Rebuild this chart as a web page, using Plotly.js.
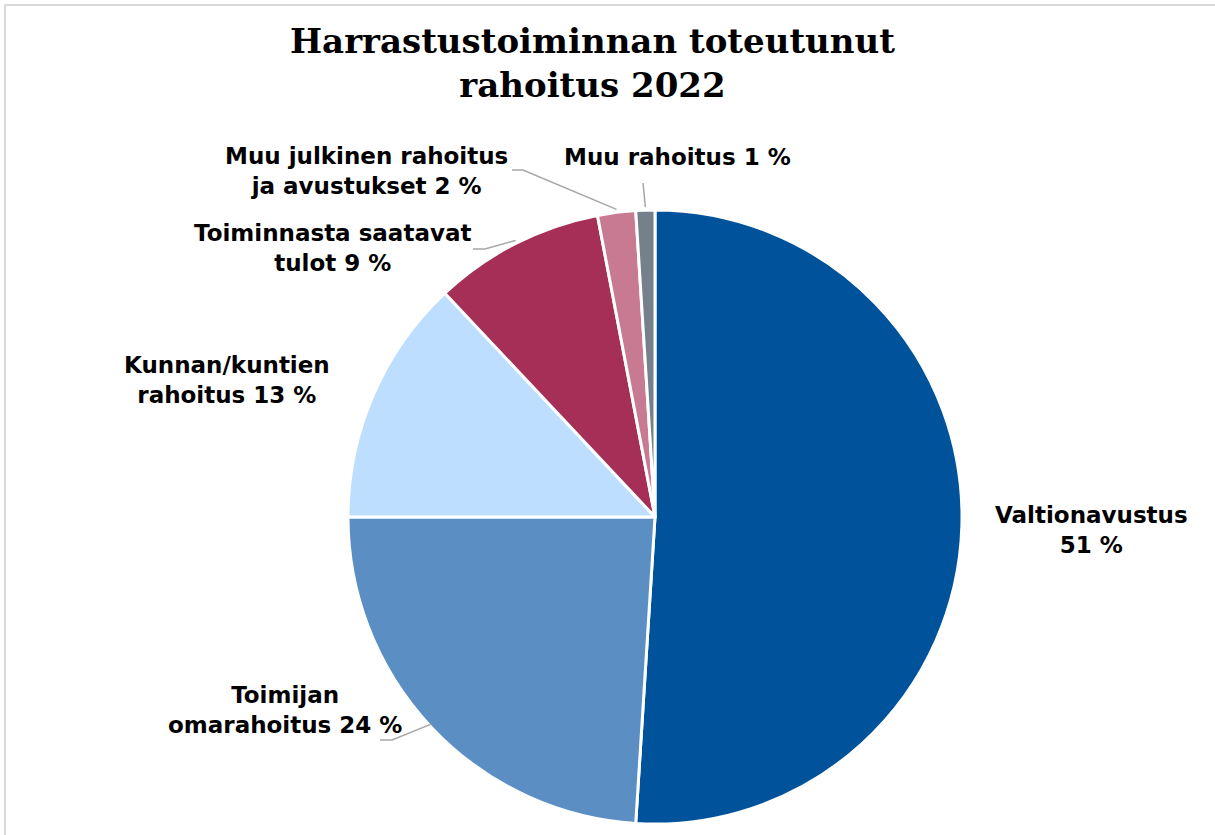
<!DOCTYPE html>
<html>
<head>
<meta charset="utf-8">
<script src="https://cdn.plot.ly/plotly-3.0.1.min.js"></script>
<style>
  html, body { margin: 0; padding: 0; background: #fff; overflow: hidden; }
  #kehys {
    position: absolute; left: 4px; top: 4px; width: 1400px; height: 1000px;
    border-top: 2px solid #d9d9d9; border-left: 2px solid #d9d9d9;
    pointer-events: none;
  }
  #kaavio { width: 1215px; height: 835px; }
</style>
</head>
<body>
<div id="kaavio"></div>
<div id="kehys"></div>
<script>
// rahoituslähteet, osuus prosentteina
const lahteet = [
  "Valtionavustus",
  "Toimijan omarahoitus",
  "Kunnan/kuntien rahoitus",
  "Toiminnasta saatavat tulot",
  "Muu julkinen rahoitus ja avustukset",
  "Muu rahoitus"
];
const osuudet = [51, 24, 13, 9, 2, 1];
// rivitykset kuten alkuperäisessä
const nimiRivit = [
  "Valtionavustus<br>",
  "Toimijan<br>omarahoitus ",
  "Kunnan/kuntien<br>rahoitus ",
  "Toiminnasta saatavat<br>tulot ",
  "Muu julkinen rahoitus<br>ja avustukset ",
  "Muu rahoitus "
];
const varit = ["#00529b", "#5b8fc4", "#bddeff", "#a52f57", "#c97a93", "#76808a"];

const W = 1215, H = 835;
const CX = 655, CY = 517, R = 307;   // piirakan keskipiste ja säde (px)

const px = x => x / W;
const py = y => 1 - y / H;

// tekstien paikat (px) ja selitysviivan alkupisteet
const tekstiPaikat = [
  [1091, 530], [285, 710], [227, 380], [332, 248], [366, 171], [677, 157]
];
const viivaAlku = [null, [380, 740], null, [473, 249], [512, 170], [643, 183]];
const viivaKulma = [null, [392, 740], null, [485, 249], [523, 170], null];

// siivun keskikohta piirakan reunalla, lasketaan datasta
const summa = osuudet.reduce((a, b) => a + b, 0);
function reunaPiste(i) {
  const ennen = osuudet.slice(0, i).reduce((a, b) => a + b, 0);
  const kulma = (ennen + osuudet[i] / 2) / summa * 2 * Math.PI;
  return [CX + R * Math.sin(kulma), CY - R * Math.cos(kulma)];
}

const annotations = lahteet.map((nimi, i) => ({
  text: nimiRivit[i] + osuudet[i] + " %",
  x: px(tekstiPaikat[i][0]),
  y: py(tekstiPaikat[i][1]),
  xref: "paper", yref: "paper",
  xanchor: "center", yanchor: "middle", align: "center",
  showarrow: false,
  font: { family: "DejaVu Sans", size: 23, color: "#000", weight: "bold" }
}));

// otsikko
annotations.push({
  text: "Harrastustoiminnan toteutunut<br>rahoitus 2022",
  x: px(592), y: py(19),
  xref: "paper", yref: "paper",
  xanchor: "center", yanchor: "top", align: "center",
  showarrow: false,
  font: { family: "DejaVu Serif", size: 34, color: "#000", weight: "bold" }
});

const shapes = [];
lahteet.forEach((nimi, i) => {
  if (!viivaAlku[i]) return;
  const loppu = reunaPiste(i);
  let polku = "M" + px(viivaAlku[i][0]) + "," + py(viivaAlku[i][1]);
  if (viivaKulma[i]) polku += " L" + px(viivaKulma[i][0]) + "," + py(viivaKulma[i][1]);
  polku += " L" + px(loppu[0]) + "," + py(loppu[1] - 3);
  shapes.push({
    type: "path", xref: "paper", yref: "paper", path: polku,
    line: { color: "#a6a6a6", width: 1.5 }
  });
});

const trace = {
  type: "pie",
  labels: lahteet,
  values: osuudet,
  sort: false,
  direction: "clockwise",
  rotation: 0,
  textinfo: "none",
  hoverinfo: "label+percent",
  marker: { colors: varit, line: { color: "#ffffff", width: 3 } },
  domain: { x: [px(CX - R), px(CX + R)], y: [py(CY + R), py(CY - R)] }
};

const layout = {
  width: W, height: H,
  margin: { t: 0, b: 0, l: 0, r: 0 },
  showlegend: false,
  paper_bgcolor: "#ffffff",
  annotations: annotations,
  shapes: shapes
};

Plotly.newPlot("kaavio", [trace], layout, { displayModeBar: false });
</script>
</body>
</html>
